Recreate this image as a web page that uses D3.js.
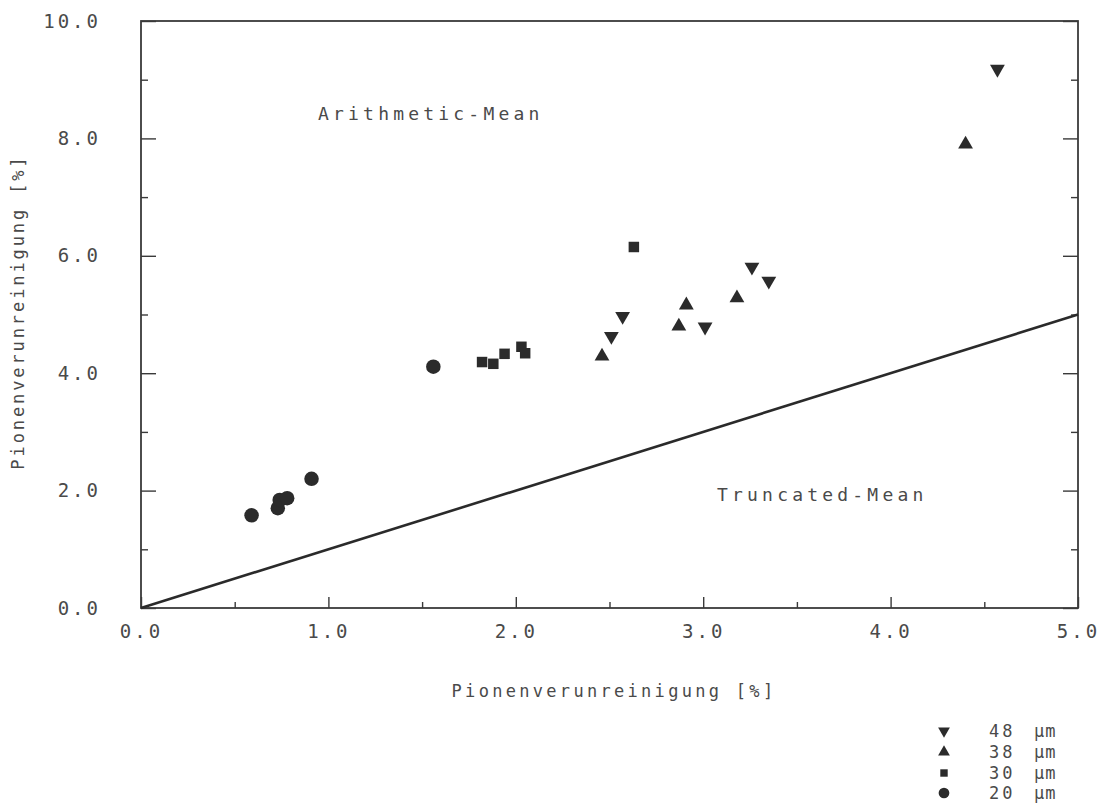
<!DOCTYPE html>
<html>
<head>
<meta charset="utf-8">
<script src="https://cdn.jsdelivr.net/npm/d3@7/dist/d3.min.js"></script>
<style>
  html, body { margin: 0; padding: 0; background: #fff; }
  svg { display: block; }
  text { font-family: "DejaVu Sans Mono", "Liberation Mono", monospace; fill: #4a4a4a; }
</style>
</head>
<body>
<svg id="chart" width="1104" height="805"></svg>
<script>
// Pion contamination: arithmetic mean (y) vs truncated mean (x), in percent
const series48 = [[4.57, 9.18], [2.51, 4.63], [2.57, 4.97], [3.01, 4.79], [3.26, 5.81], [3.35, 5.57]];
const series38 = [[4.40, 7.90], [2.46, 4.29], [2.87, 4.80], [2.91, 5.16], [3.18, 5.28]];
const series30 = [[1.82, 4.19], [1.88, 4.16], [1.94, 4.33], [2.03, 4.45], [2.05, 4.34], [2.63, 6.15]];
const series20 = [[0.59, 1.58], [0.73, 1.70], [0.74, 1.84], [0.78, 1.87], [0.91, 2.20], [1.56, 4.11]];
const legendLabels = ["48", "38", "30", "20"];
const xMajorTicks = [0, 1, 2, 3, 4, 5];
const xMinorTicks = [0.5, 1.5, 2.5, 3.5, 4.5];
const yMajorTicks = [0, 2, 4, 6, 8, 10];
const yMinorTicks = [1, 3, 5, 7, 9];
const diagonal = [[0, 0], [5, 5]];

const svg = d3.select("#chart");
const x = d3.scaleLinear().domain([0, 5]).range([141, 1078]);
const y = d3.scaleLinear().domain([0, 10]).range([608, 21]);
const ink = "#3a3a3a";

// tick marks point into the plot
function tickAxis(gen, values, size, transform) {
  const g = svg.append("g").attr("transform", transform)
    .call(gen.tickValues(values).tickSize(-size).tickFormat(""));
  g.select(".domain").remove();
  g.selectAll("line").attr("stroke", ink).attr("stroke-width", 1.4);
}
tickAxis(d3.axisBottom(x), xMajorTicks, 11, `translate(0,${y(0)})`);
tickAxis(d3.axisBottom(x), xMinorTicks, 6, `translate(0,${y(0)})`);
tickAxis(d3.axisLeft(y), yMajorTicks, 15, `translate(${x(0)},0)`);
tickAxis(d3.axisLeft(y), yMinorTicks, 7, `translate(${x(0)},0)`);
tickAxis(d3.axisRight(y), yMajorTicks, 15, `translate(${x(5)},0)`);
tickAxis(d3.axisRight(y), yMinorTicks, 7, `translate(${x(5)},0)`);

// tick labels
const fmt = d3.format(".1f");
const xl = svg.append("g").attr("transform", `translate(0,${y(0)})`)
  .call(d3.axisBottom(x).tickValues(xMajorTicks).tickSize(0).tickPadding(17).tickFormat(fmt));
xl.select(".domain").remove();
xl.selectAll("text").attr("font-size", 19).attr("letter-spacing", 3).attr("font-family", null);
const yl = svg.append("g").attr("transform", `translate(${x(0)},0)`)
  .call(d3.axisLeft(y).tickValues(yMajorTicks).tickSize(0).tickPadding(40).tickFormat(fmt));
yl.select(".domain").remove();
yl.selectAll("text").attr("font-size", 19).attr("letter-spacing", 3).attr("font-family", null);

// frame
svg.append("rect")
  .attr("x", x(0)).attr("y", y(10))
  .attr("width", x(5) - x(0)).attr("height", y(0) - y(10))
  .attr("fill", "none").attr("stroke", ink).attr("stroke-width", 1.8);

// equality line
svg.append("path")
  .attr("d", d3.line().x(d => x(d[0])).y(d => y(d[1]))(diagonal))
  .attr("fill", "none").attr("stroke", "#2a2a2a").attr("stroke-width", 2.6);

// region labels
svg.append("text").attr("x", 318).attr("y", 120).attr("font-size", 18).attr("letter-spacing", 4.2)
  .text("Arithmetic-Mean");
svg.append("text").attr("x", 717).attr("y", 501).attr("font-size", 18).attr("letter-spacing", 4.2)
  .text("Truncated-Mean");

// axis titles
svg.append("text").attr("x", 614).attr("y", 697).attr("text-anchor", "middle")
  .attr("font-size", 17).attr("letter-spacing", 3.3).text("Pionenverunreinigung [%]");
svg.append("text").attr("transform", "translate(24,312) rotate(-90)").attr("text-anchor", "middle")
  .attr("font-size", 17).attr("letter-spacing", 2.9).text("Pionenverunreinigung [%]");

// markers
const markFill = "#2b2b2b";
const triDown = d3.symbol().type(d3.symbolTriangle).size(95);
const triUp = d3.symbol().type(d3.symbolTriangle).size(95);
const square = d3.symbol().type(d3.symbolSquare).size(110);
const circle = d3.symbol().type(d3.symbolCircle).size(165);

function plot(data, sym, rot) {
  svg.append("g").selectAll("path").data(data).join("path")
    .attr("d", sym)
    .attr("transform", d => `translate(${x(d[0])},${y(d[1])}) rotate(${rot})`)
    .attr("fill", markFill);
}
plot(series48, triDown, 180);
plot(series38, triUp, 0);
plot(series30, square, 0);
plot(series20, circle, 0);

// legend
const legendTypes = [d3.symbolTriangle, d3.symbolTriangle, d3.symbolSquare, d3.symbolCircle];
const legendRot = [180, 0, 0, 0];
const legendSize = [60, 60, 55, 90];
const legendY = [731, 752, 773, 793];
const leg = svg.append("g");
legendLabels.forEach((lab, i) => {
  const cy = legendY[i];
  leg.append("path")
    .attr("d", d3.symbol().type(legendTypes[i]).size(legendSize[i]))
    .attr("transform", `translate(944,${cy}) rotate(${legendRot[i]})`)
    .attr("fill", markFill);
  leg.append("text").attr("x", 989).attr("y", cy + 6).attr("font-size", 17).attr("letter-spacing", 3).text(lab);
  leg.append("text").attr("x", 1034).attr("y", cy + 6).attr("font-size", 17).attr("letter-spacing", 1).text("µm");
});
</script>
</body>
</html>
